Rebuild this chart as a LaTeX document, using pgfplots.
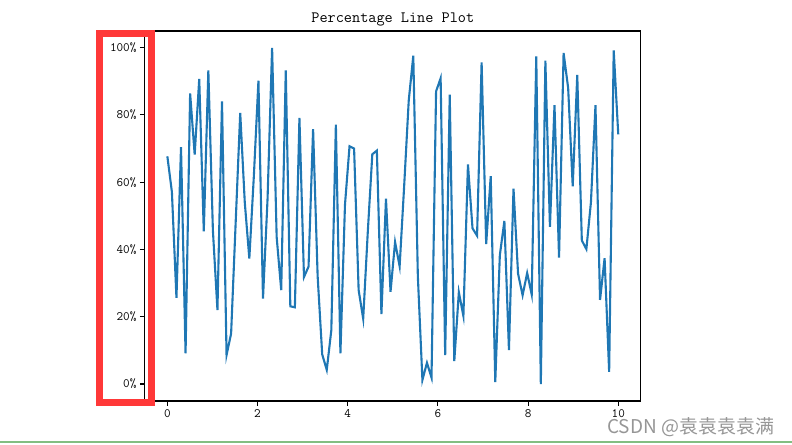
\documentclass[border=0pt]{standalone}
\usepackage{fontspec}
\usepackage{pgfplots}
\pgfplotsset{compat=1.18}
\newfontfamily\cjk{Noto Sans CJK SC}
\definecolor{tabblue}{RGB}{31,119,180}
\definecolor{boxred}{RGB}{255,56,56}
\definecolor{wmgray}{RGB}{150,150,150}
\definecolor{lineGreen}{RGB}{130,190,130}

\pgfplotstableread{
x y
0 0.677
0.1010 0.571
0.2020 0.256
0.3030 0.704
0.4040 0.091
0.5051 0.864
0.6061 0.682
0.7071 0.907
0.8081 0.454
0.9091 0.932
1.0101 0.457
1.1111 0.220
1.2121 0.840
1.3131 0.086
1.4141 0.150
1.5152 0.480
1.6162 0.806
1.7172 0.540
1.8182 0.373
1.9192 0.620
2.0202 0.902
2.1212 0.254
2.2222 0.550
2.3232 0.999
2.4242 0.437
2.5253 0.279
2.6263 0.932
2.7273 0.231
2.8283 0.228
2.9293 0.791
3.0303 0.318
3.1313 0.349
3.2323 0.758
3.3333 0.320
3.4343 0.088
3.5354 0.042
3.6364 0.160
3.7374 0.771
3.8384 0.091
3.9394 0.533
4.0404 0.707
4.1414 0.700
4.2424 0.279
4.3434 0.194
4.4444 0.450
4.5455 0.683
4.6465 0.694
4.7475 0.208
4.8485 0.551
4.9495 0.274
5.0505 0.422
5.1515 0.350
5.2525 0.590
5.3535 0.843
5.4545 0.976
5.5556 0.320
5.6566 0.012
5.7576 0.063
5.8586 0.019
5.9596 0.870
6.0606 0.909
6.1616 0.086
6.2626 0.860
6.3636 0.068
6.4646 0.273
6.5657 0.202
6.6667 0.653
6.7677 0.463
6.8687 0.441
6.9697 0.956
7.0707 0.416
7.1717 0.618
7.2727 0.006
7.3737 0.383
7.4747 0.485
7.5758 0.101
7.6768 0.581
7.7778 0.328
7.8788 0.264
7.9798 0.330
8.0808 0.266
8.1818 0.974
8.2828 0.000
8.3838 0.961
8.4848 0.467
8.5859 0.829
8.6869 0.376
8.7879 0.984
8.8889 0.880
8.9899 0.588
9.0909 0.919
9.1919 0.427
9.2929 0.401
9.3939 0.540
9.4949 0.829
9.5960 0.250
9.6970 0.374
9.7980 0.036
9.8990 0.992
10 0.742
}\pctdata

\begin{document}
\begin{tikzpicture}
\useasboundingbox (0,0) rectangle (792bp,445bp);
\begin{axis}[
  at={(144.8bp,44bp)}, anchor=south west,
  scale only axis, width=496bp, height=370bp,
  xmin=-0.5, xmax=10.5, ymin=-0.0505, ymax=1.0495,
  xtick={0,2,4,6,8,10}, xticklabels={0,2,4,6,8,10},
  ytick={0,0.2,0.4,0.6,0.8,1},
  yticklabels={0\%,20\%,40\%,60\%,80\%,100\%},
  tick align=outside, tick pos=left,
  major tick length=4.9bp,
  every tick/.style={black, line width=1.1bp},
  axis line style={line width=1.1bp},
  ticklabel style={font=\fontsize{12.8bp}{14bp}\ttfamily},
  title={Percentage Line Plot},
  title style={font=\fontsize{15.8bp}{18bp}\ttfamily, at={(0.5,1)}, anchor=south, yshift=-5bp},
]
\addplot [tabblue, line width=2.1bp] table [x=x, y=y] {\pctdata};
\end{axis}
\draw [boxred, line width=7bp] (99.5bp,42.5bp) rectangle (151.5bp,411.5bp);
\node [anchor=west, text=wmgray, font=\fontsize{19bp}{21bp}\cjk, inner sep=0pt] at (607bp,17.5bp) {CSDN @袁袁袁袁满};
\draw [lineGreen, line width=1.5bp] (0,3bp) -- (792bp,3bp);
\end{tikzpicture}
\end{document}
